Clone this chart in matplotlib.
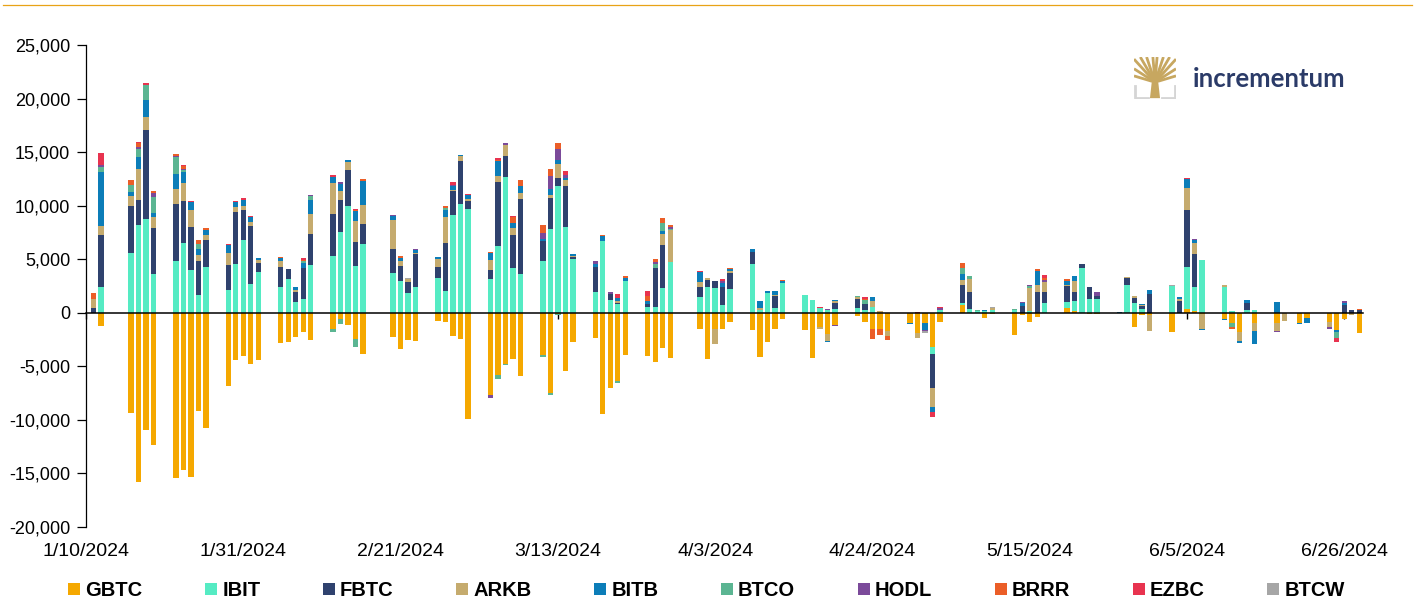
import datetime as dt
import numpy as np
import matplotlib.pyplot as plt
import matplotlib.dates as mdates
from matplotlib.lines import Line2D
from matplotlib.patches import Polygon
from matplotlib.ticker import FuncFormatter

plt.rcParams['font.family'] = ['Liberation Sans', 'DejaVu Sans']

# trading days shown in the chart
jan_days = [11, 12, 16, 17, 18, 19, 22, 23, 24, 25, 26, 29, 30, 31]
feb_days = [1, 2, 5, 6, 7, 8, 9, 12, 13, 14, 15, 16, 20, 21, 22, 23, 26, 27, 28, 29]
mar_days = [1, 4, 5, 6, 7, 8, 11, 12, 13, 14, 15, 18, 19, 20, 21, 22, 25, 26, 27, 28]
apr_days = [1, 2, 3, 4, 5, 8, 9, 10, 11, 12, 15, 16, 17, 18, 19, 22, 23, 24, 25, 26, 29, 30]
may_days = [1, 2, 3, 6, 7, 8, 9, 10, 13, 14, 15, 16, 17, 20, 21, 22, 23, 24, 27, 28, 29, 30, 31]
jun_days = [3, 4, 5, 6, 7, 10, 11, 12, 13, 14, 17, 18, 20, 21, 24, 25, 26, 27, 28]

gbtc = [0, -1275, -9330, -15770, -10950, -12380, -15460, -14680, -15300, -9180, -10730, -6870, -4450, -4010,
        -4820, -4450, -2800, -2710, -2270, -1840, -2550, -1490, -620, -1180, -2490, -3830, -2240, -3420, -2580, -2640, -780, -840, -2180, -2490,
        -9950, -7710, -5850, -4760, -4350, -5910, -3980, -7530, -150, -5470, -2740, -2330, -9420, -7000, -6380, -3950, -4040, -4570, -3270, -4230,
        -1560, -4290, -1560, -1560, -840, -1620, -4140, -2740, -1490, -620, -1620, -4230, -1340, -1960, -1180, -280, -870, -1560, -1560, -1710, -1000, -1870,
        -1000, -3170, -870, 715, 0, 0, -470, -100, -2120, -250, -870, -400, 0, 400, 120, 0, -120, -120, 0, 0, -1310, -220, -220,
        -1770, 0, 370, 160, -160, -560, -930, -1770, 0, -930, -930, 0, -930, -530, -840, -1650, -560, 0, -1930]

ibit = [0, 2395, 5540, 8240, 8710, 3580, 4790, 6470, 4040, 1650, 4260, 2080, 4600, 6840,
        2710, 3790, 2430, 3200, 1000, 1240, 4480, 5290, 7530, 10010, 4350, 6380, 3670, 2960, 1870, 2430, 3270, 2020, 9110, 10170,
        9730, 3200, 6220, 12630, 4140, 3610, 4820, 7780, 11880, 8020, 4980, 1960, 6690, 1150, 780, 2960, 560, 500, 2330, 4730,
        1460, 2430, 2300, 680, 2180, 4570, 250, 1870, 470, 2740, 1650, 1150, 400, 220, 310, 470, 280, 530, 0, 0, 0, 0,
        0, -650, 250, 220, 370, 150, 120, 250, 220, 0, 120, 0, 930, 620, 960, 4140, 1310, 1310, 0, 2610, 870, 310, 0,
        2490, 0, 3920, 2210, 4910, 2400, 150, 0, 220, 250, 0, 0, 0, 0, 0, 0, 0, 0, 0]

fbtc = [400, 4850, 4420, 2330, 8400, 4290, 5320, 3980, 4010, 3140, 2520, 2360, 4820, 2740,
        5380, 840, 1840, 930, 930, 2960, 2830, 3890, 2990, 3300, 2240, 1870, 2240, 1400, 1030, 3050, 1000, 4450, 2240, 4040,
        750, 780, 5970, 1990, 3080, 6970, 1870, 2920, 680, 3790, 220, 2300, 0, 560, 160, 0, 220, 3670, 3980, 0,
        960, 620, 650, 1740, 1560, 1150, 0, 0, 1090, 0, 0, 0, 0, 0, 560, 780, 530, 0, 0, 0, 0, 0,
        0, -3230, 0, 1650, 1560, 0, 0, 0, 0, 590, 0, 1960, 1000, 1460, 900, 370, 1090, 250, 0, 620, 500, 310, 1710,
        0, 1060, 5350, 3080, 0, 0, 0, 0, 715, 0, 0, 0, 0, 0, 0, 0, 715, 220, 250]

arkb = [840, 810, 900, 2890, 1180, 1090, 1490, 1620, 1590, 650, 435, 1150, 435, 435,
        400, 340, 560, 0, 160, 0, 1900, 2960, 840, 750, 2020, 1770, 2710, 500, 280, 120, 715, 2460, 90, 400,
        150, 930, 620, 1030, 650, 620, 0, 250, 1340, 590, 90, 0, 0, 0, 190, 0, 0, 0, 1090, 2960,
        435, 160, -1340, 0, 190, 0, 220, 0, 120, 0, 0, 0, -160, -680, 190, 190, 0, 560, 120, -470, 0, -500,
        0, -1740, 0, 435, 1240, 0, 0, 190, 0, 0, 2210, 620, 930, 160, 960, 0, 0, 0, 0, 120, 190, 120, -1490,
        0, 190, 2020, 1090, -1400, 160, 0, -870, 0, -780, -780, -780, 0, 0, -470, 0, 0, -220, 0]

bitb = [0, 5070, 400, 1120, 1620, 400, 1370, 1060, 680, 470, 470, 715, 470, 500,
        435, 150, 310, 0, 310, 470, 1280, 560, 680, 250, 870, 2270, 400, 280, 0, 220, 250, 650, 370, 150,
        340, 680, 1340, 0, 470, 620, 220, 620, 370, 160, 160, 250, 470, 0, 250, 250, 310, 0, 190, 0,
        930, 0, 0, 370, 190, 250, 590, 120, 340, 190, 0, 0, 0, -120, 160, 0, 0, 340, 0, 0, -90, 0,
        -620, -470, 0, 560, 0, 0, 120, 0, 0, 340, 0, 1310, 0, 310, 470, 0, 0, 0, 90, 0, 0, 90, 400,
        0, 220, 870, 220, -60, -90, 60, -190, 250, -1240, 960, 0, -160, -470, 0, -120, 220, 0, 0]

btco = [0, 470, 680, 750, 1400, 1490, 1560, 190, 0, 530, 0, 0, 0, 0,
        0, 0, 0, 0, 0, 150, 400, -310, -435, 0, -715, 0, 0, 0, 0, 0, 0, 220, 0, 0,
        0, 0, -310, -160, 0, 0, -120, -120, -100, 0, 0, 0, 0, 0, -150, 0, 0, 370, 810, 160,
        0, 0, 0, 0, 0, 0, 0, 0, 0, 0, 0, 0, 0, 0, 0, 120, 340, 0, 0, 0, 0, 0,
        0, 0, 0, 560, 220, 70, 0, 0, 90, 0, 160, 0, 0, 0, 0, 0, 0, 0, 0, 0, 0, 0, 0,
        0, 0, 0, 0, 0, 0, -370, 0, 0, 0, 0, 0, 0, 0, 0, -620, 0, 0, 0]

hodl = [0, 190, 0, 160, 0, 310, 90, 120, 0, 0, 0, 0, 0, 0,
        0, 0, 0, 0, 0, 0, 90, 0, 190, 0, 0, 0, 120, 0, 0, 150, 0, 0, 90, 0,
        0, -220, 0, 220, 0, 0, 560, 1240, 1030, 340, 0, 370, 0, 220, 0, 0, 0, 190, 0, 190,
        0, 0, 0, 220, 0, 0, 0, 0, 0, 0, 0, 0, 0, 160, -60, 0, 0, 0, 0, 0, 0, 0,
        -120, 0, 150, 0, 0, 0, 0, 0, 0, 120, 120, 0, 190, 0, 0, 0, 0, 370, 0, 0, 0, 0, 0,
        0, 0, 0, 90, 60, 0, 0, 0, 0, 0, -90, 0, 0, 0, -160, 0, 120, 0, 0]

brrr = [590, 0, 500, 400, 0, 220, 250, 250, 0, 370, 190, 0, 0, 0,
        0, 0, 90, 0, 0, 150, 0, 0, 0, 0, 120, 220, 0, 150, 0, 0, 0, 150, 0, 0,
        0, 90, 150, 0, 620, 620, 680, 620, 560, 0, 60, 0, 90, 0, 0, 220, 470, 310, 435, 120,
        0, 0, 0, 0, 60, 0, 0, 0, 0, 160, 0, 0, 90, 0, 0, 0, 150, -930, -470, -370, 0, 0,
        0, 0, 0, 530, 0, 0, 0, 0, 0, 0, 0, 160, 200, 220, 0, 0, 0, 0, 0, 0, 0, 0, 0,
        0, 0, 0, 0, 0, 0, -190, 0, 0, 0, 0, 0, 0, 0, 0, 0, 0, 0, 60]

ezbc = [0, 1150, 0, 60, 155, 0, 0, 120, 120, 0, 0, 120, 90, 190,
        150, 0, 0, 0, 0, 120, 0, 160, 0, 0, 130, 0, 0, 0, 0, 0, 0, 0, 280, 0,
        150, 0, 160, 0, 120, 0, 0, 0, 0, 310, 0, 0, 0, 0, 400, 0, 435, 0, 0, 0,
        120, 0, 0, 160, 0, 0, 0, 0, 0, 0, 0, 0, 60, 0, 0, 0, 150, 0, 0, 0, 0, 110,
        0, -500, 120, 0, 0, 0, 0, 0, 0, 0, 0, 0, 240, 0, 0, 0, 0, 0, 0, 0, 0, 0, 0,
        0, 0, 90, 0, 0, 0, 0, 0, 0, 0, 0, 0, 0, 0, 0, -310, 0, 0, 0]

btcw = [0] * 14 + \
       [0] * 14 + [90] + [0] * 5 + \
       [0] * 20 + \
       [0] * 22 + \
       [-120, 0, 0, 0, 0, 0, 0, 60] + [0] * 15 + \
       [120] + [0] * 18

funds = ['GBTC', 'IBIT', 'FBTC', 'ARKB', 'BITB', 'BTCO', 'HODL', 'BRRR', 'EZBC', 'BTCW']
series = [gbtc, ibit, fbtc, arkb, bitb, btco, hodl, brrr, ezbc, btcw]
colors = ['#F5A800', '#55EBC3', '#2F426E', '#C5AB6E', '#0C7DB8',
          '#5BB592', '#7B4A9A', '#EB5E28', '#E8334F', '#A6A6A6']

dates = ([dt.date(2024, 1, d) for d in jan_days] + [dt.date(2024, 2, d) for d in feb_days] +
         [dt.date(2024, 3, d) for d in mar_days] + [dt.date(2024, 4, d) for d in apr_days] +
         [dt.date(2024, 5, d) for d in may_days] + [dt.date(2024, 6, d) for d in jun_days])
x = mdates.date2num(dates)

W, H = 1415, 614
fig = plt.figure(figsize=(W / 100, H / 100), dpi=100)
ax = fig.add_axes([86 / W, 1 - 527 / H, (1363 - 86) / W, (527 - 45) / H])

pos_base = np.zeros(len(x))
neg_base = np.zeros(len(x))
for name, vals, col in zip(funds, series, colors):
    v = np.array(vals, dtype=float)
    base = np.where(v >= 0, pos_base, neg_base)
    ax.bar(x, v, bottom=base, width=0.72, color=col, label=name, linewidth=0, zorder=2)
    pos_base += np.clip(v, 0, None)
    neg_base += np.clip(v, None, 0)

d0 = mdates.date2num(dt.date(2024, 1, 10))
ax.set_xlim(d0, d0 + 170.5)
ax.set_ylim(-20000, 25000)

ax.set_xticks([d0 + 21 * k for k in range(9)])
ax.xaxis.set_major_formatter(FuncFormatter(
    lambda v, p: '{0}/{1}/{2}'.format(mdates.num2date(v).month, mdates.num2date(v).day, mdates.num2date(v).year)))
ax.set_yticks(np.arange(-20000, 25001, 5000))
ax.yaxis.set_major_formatter(FuncFormatter(lambda v, p: '{:,.0f}'.format(v)))

ax.spines['top'].set_visible(False)
ax.spines['right'].set_visible(False)
ax.spines['bottom'].set_position(('data', 0))
ax.spines['bottom'].set_linewidth(1.1)
ax.spines['bottom'].set_zorder(3)
ax.spines['left'].set_linewidth(0.9)
ax.tick_params(axis='x', direction='out', length=4.5, width=1.0, pad=161, labelsize=14)
ax.tick_params(axis='y', direction='out', length=6.3, width=0.9, pad=5, labelsize=13)

# legend along the bottom
fig.legend(loc='center left', bbox_to_anchor=(68 / W, 1 - 590.5 / H), ncol=10, frameon=False,
           prop={'weight': 'bold', 'size': 14.5}, handlelength=0.6, handleheight=0.6,
           handletextpad=0.26, columnspacing=3.1, borderpad=0, borderaxespad=0)

# thin rule at the top
fig.add_artist(Line2D([3 / W, 1412 / W], [1 - 5 / H, 1 - 5 / H], color='#E8A317', lw=0.9))

# logo
lax = fig.add_axes([1134 / W, 1 - 99 / H, 42 / W, 42 / H])
lax.set_xlim(0, 1)
lax.set_ylim(0, 1)
lax.axis('off')
gold = '#C7A760'
lax.add_patch(Polygon([[0.38, 0.02], [0.62, 0.02], [0.58, 0.38], [0.5, 0.5], [0.42, 0.38]],
                      closed=True, color=gold, lw=0))
for tx, ty in [(0.0, 0.95), (0.15, 1.0), (0.3, 1.0), (0.45, 1.0), (0.55, 1.0), (0.7, 1.0), (0.85, 1.0),
               (1.0, 0.95), (0.0, 0.72), (1.0, 0.72), (0.0, 0.55), (1.0, 0.55)]:
    lax.plot([0.5, tx], [0.4, ty], color=gold, lw=2.0, solid_capstyle='butt')
lax.plot([0.03, 0.03, 0.33], [0.3, 0.03, 0.03], color='#D5D5D5', lw=2.0)
lax.plot([0.97, 0.97, 0.67], [0.3, 0.03, 0.03], color='#D5D5D5', lw=2.0)

logo = fig.text(1193 / W, 1 - 79 / H, 'incrementum', color='#2B3B68', fontsize=19,
                fontweight='bold', family=['Lato', 'DejaVu Sans'], va='center', ha='left')
fig.canvas.draw()
wpx = logo.get_window_extent().width
logo.set_fontsize(19 * 152 / wpx)

fig.savefig('out.png', dpi=100)
